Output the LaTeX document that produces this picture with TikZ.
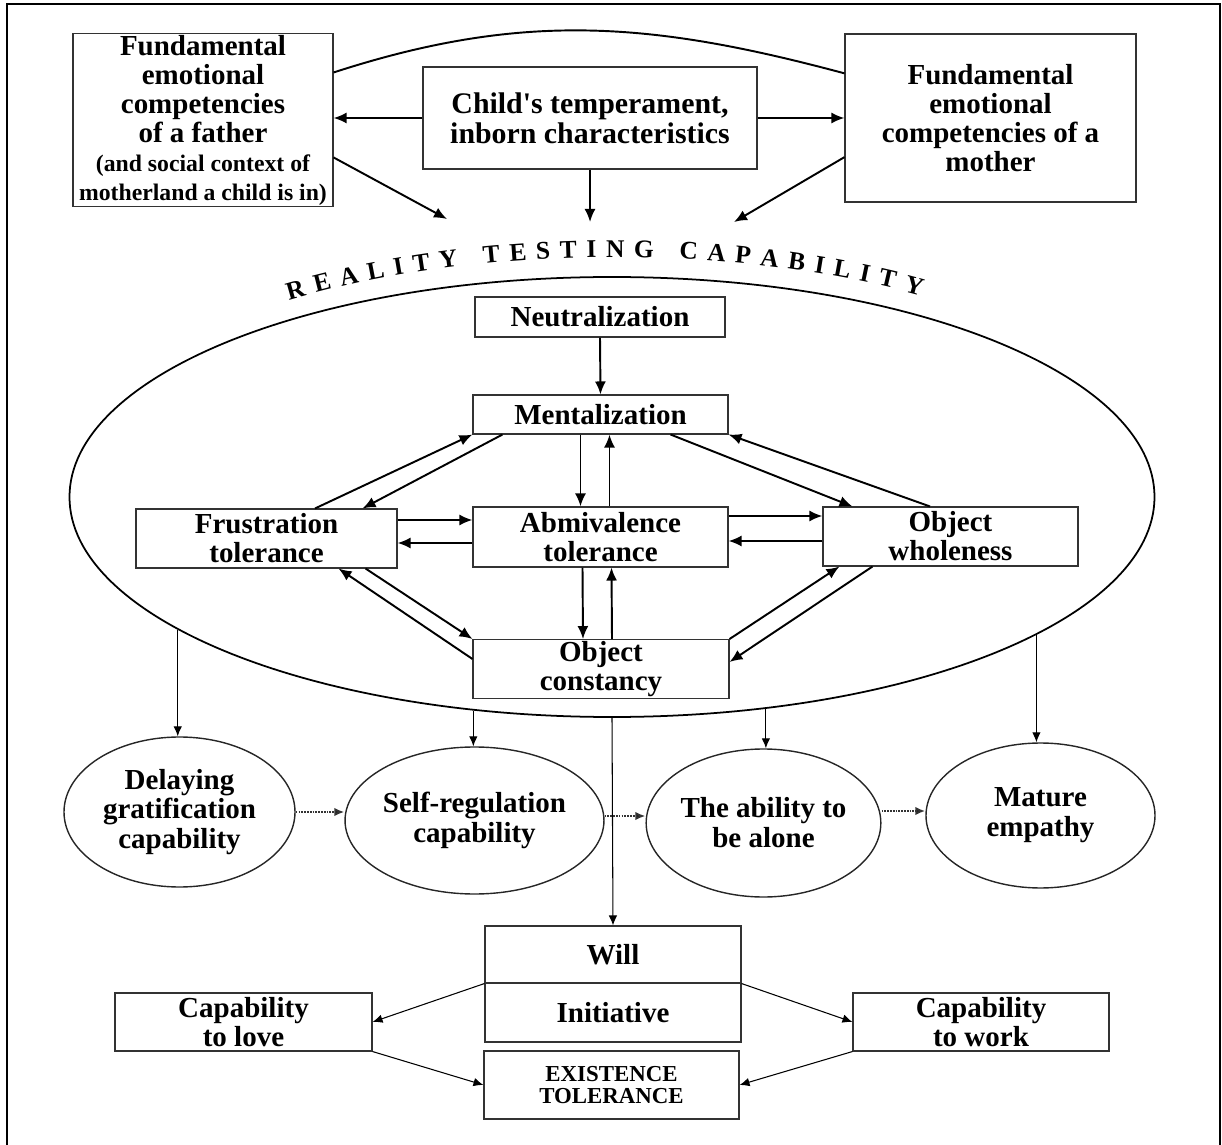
\documentclass[tikz,border=0pt]{standalone}
\usepackage{fontspec}
\setmainfont{Liberation Serif}
\usetikzlibrary{arrows.meta, shapes.geometric, decorations.text}

\newcommand{\notefont}{\fontsize{13.5}{13.6}\selectfont}

\begin{document}
\begin{tikzpicture}[>={Latex[length=2.6mm,width=2.2mm]}]
        % Setup the styles for the boxes, ovals and arrows
        \tikzset{box style/.style={rectangle,
                                   draw=black!80,
                                   line width=0.6pt,
                                   align=center,
                                   inner sep=1pt,
                                   font=\bfseries\fontsize{16.5}{16.5}\selectfont},
                 oval style/.style={ellipse,
                                    draw=black!85,
                                    line width=0.8pt,
                                    align=center,
                                    inner sep=0pt,
                                    font=\bfseries\fontsize{16.5}{17}\selectfont},
                 main arrow/.style={line width=1.1pt, every edge/.append style={->}},
                 thin arrow/.style={line width=0.6pt, >={Latex[length=2mm,width=1.7mm]},
                                    every edge/.append style={->}},
                 dotted arrow/.style={thin arrow, line width=1.2pt, draw=black!80,
                                      dash pattern=on 1pt off 0.6pt}}

        \useasboundingbox (0,0) rectangle (24.44,-22.9);
        \draw[line width=1.2pt] (0.14,-22.9) -- (0.14,-0.08) -- (24.4,-0.08) -- (24.4,-22.9);

        % Draw the top boxes
        \node[box style, minimum width=5.2cm, minimum height=3.44cm] at (4.06, -2.4) (father)
            {Fundamental\\ emotional\\ competencies\\ of a father\\
             \notefont(and social context of\\ \notefont motherland a child is in)};
        \node[box style, minimum width=6.68cm, minimum height=2.04cm,
              font=\bfseries\fontsize{17}{17}\selectfont] at (11.8, -2.36) (child)
            {Child\textquotesingle s temperament,\\ inborn characteristics};
        \node[box style, minimum width=5.82cm, minimum height=3.36cm] at (19.81, -2.36) (mother)
            {Fundamental\\ emotional\\ competencies of a\\ mother};
        \coordinate (fathertip) at (8.94, -4.38);
        \coordinate (childtip) at (11.86, -4.44);
        \coordinate (mothertip) at (14.68, -4.44);

        % Draw the big oval and its title
        \node[ellipse, draw, line width=1pt, minimum width=21.7cm, minimum height=8.8cm]
            at (12.24, -9.94) (reality) {};
        \path[decorate,
              decoration={text along path,
                          text align={fit to path},
                          text={|\bfseries\fontsize{14.5}{14.5}\selectfont|REALITY TESTING CAPABILITY}}]
            (5.78, -6.01) arc[start angle=125, end angle=57, x radius=11.3, y radius=4.8];

        % Draw the boxes inside the oval
        \node[box style, minimum width=5cm, minimum height=0.8cm] at (12, -6.34) (neutral) {Neutralization};
        \node[box style, minimum width=5.1cm, minimum height=0.78cm] at (12.01, -8.29) (mental) {Mentalization};
        \node[box style, minimum width=5.22cm, minimum height=1.18cm] at (5.33, -10.77) (frustration) {Frustration\\ tolerance};
        \node[box style, minimum width=5.1cm, minimum height=1.2cm] at (12.01, -10.74) (ambivalence) {Abmivalence\\ tolerance};
        \node[box style, minimum width=5.1cm, minimum height=1.18cm] at (19.01, -10.73) (wholeness) {Object\\ wholeness};
        \node[box style, minimum width=5.12cm, minimum height=1.16cm] at (12.02, -13.38) (constancy) {Object\\ constancy};

        % Draw the ovals below
        \node[oval style, minimum width=4.62cm, minimum height=3cm] at (3.59, -16.24) (delaying) {Delaying\\ gratification\\ capability};
        \node[oval style, minimum width=4.46cm, minimum height=2.94cm] at (9.49, -16.41) (selfreg) {Self-regulation\\ capability};
        \node[oval style, minimum width=4.62cm, minimum height=2.96cm] at (15.27, -16.46) (alone) {The ability to\\ be alone};
        \node[oval style, minimum width=4.58cm, minimum height=2.9cm] at (20.81, -16.31) (empathy) {Mature\\ empathy};

        % Draw the bottom boxes
        \node[box style, minimum width=5.12cm, minimum height=1.14cm] at (12.26, -19.09) (will) {Will};
        \node[box style, minimum width=5.12cm, minimum height=1.18cm] at (12.26, -20.25) (initiative) {Initiative};
        \node[box style, minimum width=5.14cm, minimum height=1.16cm] at (4.87, -20.44) (love) {Capability\\ to love};
        \node[box style, minimum width=5.12cm, minimum height=1.16cm] at (19.62, -20.44) (work) {Capability\\ to work};
        \node[box style, minimum width=5.1cm, minimum height=1.36cm,
              font=\bfseries\fontsize{13}{13}\selectfont] at (12.23, -21.7) (existence) {EXISTENCE\\ TOLERANCE};

        % Connect the top boxes
        \draw[line width=1.1pt] (father.20) to[out=18, in=165] (mother.163);
        \draw[main arrow]
            (child.west)     edge (child.west -| father.east)
            (child.east)     edge (child.east -| mother.west)
            (father.-16)     edge (fathertip)
            (child.south)    edge (child.south |- childtip)
            (mother.195)     edge (mothertip);

        % Connect the boxes inside the oval
        \draw[main arrow]
            (neutral.south)                     edge (mental.north)
            ([xshift=-4mm]mental.south)         edge ([xshift=-4mm]ambivalence.north)
            ([xshift=1.8mm]ambivalence.north)   edge ([xshift=1.8mm]mental.south)
            ([xshift=-3.6mm]ambivalence.south)  edge ([xshift=-3.6mm]constancy.north)
            ([xshift=2.2mm]constancy.north)     edge ([xshift=2.2mm]ambivalence.south)
            ([yshift=3.7mm]frustration.east)    edge ([yshift=3.7mm]frustration.east -| ambivalence.west)
            ([yshift=-1.2mm]ambivalence.west)   edge ([yshift=-1.2mm]ambivalence.west -| frustration.east)
            ([yshift=4.2mm]ambivalence.east)    edge ([yshift=4.2mm]ambivalence.east -| wholeness.west)
            ([yshift=-0.9mm]wholeness.west)     edge ([yshift=-0.9mm]wholeness.west -| ambivalence.east)
            ([xshift=9.7mm]frustration.north)   edge (mental.south west)
            ([xshift=6mm]mental.south west)     edge ([xshift=-7mm]frustration.north east)
            ([xshift=-11.6mm]mental.south east) edge ([xshift=6mm]wholeness.north west)
            ([xshift=-4.1mm]wholeness.north)    edge (mental.south east)
            ([xshift=-6.4mm]frustration.south east) edge (constancy.north west)
            ([yshift=2mm]constancy.west)        edge ([xshift=-11.8mm]frustration.south east)
            (constancy.north east)              edge ([xshift=3.4mm]wholeness.south west)
            ([xshift=10mm]wholeness.south west) edge ([yshift=1.4mm]constancy.east);

        % Connect the oval with the capabilities
        \draw[thin arrow]
            (reality.197)    edge (reality.197 |- delaying.north)
            (reality.237)    edge (reality.237 |- selfreg.north)
            (reality.south)  edge (will.north)
            (reality.306)    edge (reality.306 |- alone.north)
            (reality.342)    edge (reality.342 |- empathy.north)
            (will.south west) edge (love.east)
            (will.south east) edge (work.west)
            (love.south east) edge (existence.west)
            (work.south west) edge (existence.east);
        \draw[dotted arrow]
            (delaying.east)              edge (delaying.east -| selfreg.west)
            ([yshift=0.9mm]selfreg.east) edge ([yshift=0.9mm]selfreg.east -| alone.west)
            ([yshift=2.4mm]alone.east)   edge ([yshift=2.4mm]alone.east -| empathy.west);
\end{tikzpicture}
\end{document}
